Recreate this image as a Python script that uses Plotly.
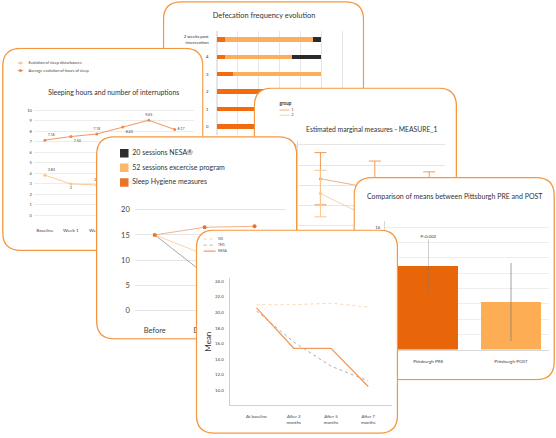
import plotly.graph_objects as go

W, H = 556, 438
FONT = "Lato"
BORDER = "#f5973f"
GRID = "#e6e6e6"
TXT = "#333333"

# ---------------- data ----------------
# Card A - defecation frequency evolution (stacked horizontal bars)
defec_cats = ["0", "1", "2", "3", "4", "2 weeks post<br>intervention"]
defec_seg_names = ["Group A", "Group B", "Group C"]
defec_dark = [25, 18, 13, 4, 2, 2]
defec_light = [0, 7, 12, 21, 16, 21]
defec_black = [0, 0, 0, 0, 7, 2]
defec_ticks = [0, 5, 10, 15, 20, 25, 30]

# Card B - sleeping hours and number of interruptions
sleep_weeks = ["Baseline", "Week 1", "Week 2", "Week 3", "Week 4", "Week 5"]
sleep_disturb = [3.83, 3.0, 2.9, 2.6, 2.4, 2.2]
sleep_hours = [7.16, 7.50, 7.74, 8.40, 9.05, 8.17]
sleep_names = ["Evolution of sleep disturbances", "Average evolution of hours of sleep"]

# Card C - estimated marginal measures
emm_time = ["1", "2", "3"]
emm_groups = ["1", "2"]
emm_g1_mean = [16.6, 14.1, 12.0]
emm_g1_err = [6.5, 6.9, 6.3]
emm_g2_mean = [12.9, 6.3, 5.5]
emm_g2_err = [5.8, 5.5, 5.5]

# Card D - NESA / exercise / sleep hygiene
nesa_names = ["20 sessions NESA®", "52 sessions excercise program", "Sleep Hygiene measures"]
nesa_periods = ["Before", "During", "After"]
nesa_sessions = [15, 7.3, 6.0]
nesa_exercise = [15, 11.1, 10.5]
nesa_hygiene = [15, 16.5, 16.7]

# Card E - Pittsburgh PRE / POST
pitt_cats = ["Pittsburgh PRE", "Pittsburgh POST"]
pitt_means = [11.0, 6.2]
pitt_err = [3.5, 5.1]
pitt_pvalue = "P=0.002"

# Card F - means over time
mean_names = ["GG", "TEG", "NESA"]
mean_times = ["At baseline", "After 2<br>months", "After 5<br>months", "After 7<br>months"]
mean_gg = [21.0, 21.0, 21.2, 20.7]
mean_teg = [20.2, 16.2, 13.1, 11.2]
mean_nesa = [20.6, 15.4, 15.4, 10.5]

# ---------------- colours ----------------
C_DARK = "#f26b0f"
C_LIGHT = "#fdad5c"
C_BLACK = "#2b2b2b"

# ---------------- helpers ----------------
def dom_x(a, b):
    return [a / W, b / W]

def dom_y(top, bot):
    return [1 - bot / H, 1 - top / H]

def lin(p, pa, va, pb, vb):
    return va + (p - pa) * (vb - va) / (pb - pa)

def nm(n, letter):
    return letter if n == 1 else f"{letter}{n}"

def rounded(x0, y0, x1, y1, r):
    return (f"M{x0+r},{y0} L{x1-r},{y0} Q{x1},{y0} {x1},{y0+r} "
            f"L{x1},{y1-r} Q{x1},{y1} {x1-r},{y1} L{x0+r},{y1} "
            f"Q{x0},{y1} {x0},{y1-r} L{x0},{y0+r} Q{x0},{y0} {x0+r},{y0} Z")

fig = go.Figure()
layout = dict(width=W, height=H, margin=dict(l=0, r=0, t=0, b=0),
              paper_bgcolor="white", plot_bgcolor="rgba(0,0,0,0)",
              showlegend=False, barmode="stack", hovermode=False,
              font=dict(family=FONT, color=TXT))
shapes = []

# card frames (x0, y0, x1, y1) in page pixels, back to front
cards = [
    (162, 1, 364, 207),    # A defecation
    (1, 48, 203, 253),     # B sleep
    (253, 88, 457, 293),   # C EMM
    (95, 137, 297, 342),   # D NESA
    (353, 178, 555, 383),  # E Pittsburgh
    (195, 231, 398, 437),  # F Mean
]

for i, (x0, y0, x1, y1) in enumerate(cards):
    n = 2 * i + 1
    layout[nm(n, "xaxis")] = dict(domain=dom_x(x0, x1), range=[x0, x1], visible=False,
                                  fixedrange=True, anchor=nm(n, "y"))
    layout[nm(n, "yaxis")] = dict(domain=dom_y(y0, y1), range=[y1, y0], visible=False,
                                  fixedrange=True, anchor=nm(n, "x"))
    shapes.append(dict(type="path", path=rounded(x0 + 0.8, y0 + 0.8, x1 - 0.8, y1 - 0.8, 18),
                       xref=nm(n, "x"), yref=nm(n, "y"), layer="below",
                       fillcolor="white", line=dict(color=BORDER, width=1.3)))

def bg_text(n, x, y, text, size, pos="middle center", color=TXT, bold=False):
    fig.add_trace(go.Scatter(x=[x], y=[y], mode="text", text=[f"<b>{text}</b>" if bold else text],
                             textposition=pos, cliponaxis=False,
                             textfont=dict(size=size, color=color, family=FONT),
                             xaxis=nm(n, "x"), yaxis=nm(n, "y"), hoverinfo="skip"))

def bg_key(n, x, y, color, size=0, symbol="circle", line_len=0, dash="solid", lw=1):
    if line_len:
        fig.add_trace(go.Scatter(x=[x - line_len / 2, x + line_len / 2], y=[y, y], mode="lines",
                                 line=dict(color=color, width=lw, dash=dash),
                                 xaxis=nm(n, "x"), yaxis=nm(n, "y"), hoverinfo="skip"))
    if size:
        fig.add_trace(go.Scatter(x=[x], y=[y], mode="markers",
                                 marker=dict(size=size, color=color, symbol=symbol),
                                 xaxis=nm(n, "x"), yaxis=nm(n, "y"), hoverinfo="skip"))

# ================= Card A : defecation =================
bg_text(1, 263.5, 16.5, "Defecation frequency evolution", 7.4)
for vals, col, name in zip([defec_dark, defec_light, defec_black],
                           [C_DARK, C_LIGHT, C_BLACK], defec_seg_names):
    fig.add_trace(go.Bar(y=defec_cats, x=vals, orientation="h", name=name, width=0.26,
                         marker=dict(color=col, line=dict(width=0)),
                         xaxis="x2", yaxis="y2"))
layout["xaxis2"] = dict(domain=dom_x(216, 360), range=[0, (360 - 216) / 4.2], anchor="y2",
                        tickvals=defec_ticks, showgrid=True, gridcolor=GRID, gridwidth=0.8,
                        zeroline=True, zerolinecolor=GRID, ticks="", fixedrange=True,
                        tickfont=dict(size=4.5, color="#555"))
layout["yaxis2"] = dict(domain=dom_y(31, 136), range=[-0.5, 5.5], type="category",
                        categoryorder="array", categoryarray=defec_cats, anchor="x2",
                        showgrid=False, ticks="", ticklabelstandoff=7, fixedrange=True,
                        tickfont=dict(size=4.3, color="#333"))

# ================= Card B : sleep =================
bg_text(3, 113, 94.3, "Sleeping hours and number of interruptions", 6.9)
sleep_cols = ["#fcc38d", "#ef8a48"]
for k, (name, col) in enumerate(zip(sleep_names, sleep_cols)):
    yk = 63.5 + 7.6 * k
    bg_key(3, 19.5, yk, col, size=3, line_len=6, lw=0.8)
    bg_text(3, 27.5, yk, name, 3.9, pos="middle right", color="#444")

fig.add_trace(go.Scatter(x=sleep_weeks, y=sleep_disturb, mode="lines+markers+text",
                         text=[f"{v:g}" for v in sleep_disturb],
                         textposition=["top right", "bottom center", "top center",
                                       "top center", "top center", "top center"],
                         textfont=dict(size=3.6, color="#444"),
                         line=dict(color=sleep_cols[0], width=0.9),
                         marker=dict(size=3, color=sleep_cols[0]),
                         name=sleep_names[0], xaxis="x4", yaxis="y4"))
fig.add_trace(go.Scatter(x=sleep_weeks, y=sleep_hours, mode="lines+markers+text",
                         text=[f"{v:.2f}" for v in sleep_hours],
                         textposition=["top right", "bottom right", "top center",
                                       "bottom right", "top center", "middle right"],
                         textfont=dict(size=3.6, color="#444"),
                         line=dict(color=sleep_cols[1], width=0.9),
                         marker=dict(size=3, color=sleep_cols[1]),
                         name=sleep_names[1], xaxis="x4", yaxis="y4"))
layout["xaxis4"] = dict(domain=dom_x(33, 193), type="category",
                        range=[lin(33, 44, 0, 70, 1), lin(193, 44, 0, 70, 1)], anchor="y4",
                        showgrid=False, zeroline=False, ticks="", ticklabelstandoff=8,
                        fixedrange=True, tickfont=dict(size=4.6, color="#444"))
layout["yaxis4"] = dict(domain=dom_y(108, 220),
                        range=[lin(220, 217, 0, 111, 10), lin(108, 217, 0, 111, 10)],
                        anchor="x4", dtick=1, showgrid=True, gridcolor="#ececec", gridwidth=0.8,
                        zeroline=False, ticks="", ticklabelstandoff=1, fixedrange=True,
                        tickfont=dict(size=4, color="#444"))

# ================= Card C : EMM =================
bg_text(5, 371.5, 130.7, "Estimated marginal measures - MEASURE_1", 6.8)
bg_text(5, 279, 104.5, "group", 4.6, pos="middle right", bold=True)
emm_cols = ["#f39a55", "#fcc58f"]
for k, (g, col) in enumerate(zip(emm_groups, emm_cols)):
    yk = 110.8 + 5.2 * k
    bg_key(5, 284, yk, col, line_len=10, lw=0.8)
    bg_text(5, 291, yk, g, 3.6, pos="middle right", color="#444")
for means, errs, col, g in [(emm_g1_mean, emm_g1_err, emm_cols[0], emm_groups[0]),
                            (emm_g2_mean, emm_g2_err, emm_cols[1], emm_groups[1])]:
    fig.add_trace(go.Scatter(x=emm_time, y=means, mode="lines+markers", name=g,
                             line=dict(color=col, width=0.8), marker=dict(size=3, color=col),
                             error_y=dict(type="data", array=errs, color=col, thickness=1, width=6),
                             xaxis="x6", yaxis="y6"))
layout["xaxis6"] = dict(domain=dom_x(298, 445), type="category",
                        range=[lin(298, 320, 0, 374.5, 1), lin(445, 320, 0, 374.5, 1)],
                        anchor="y6", showgrid=False, zeroline=False, ticks="", fixedrange=True,
                        tickfont=dict(size=4.5, color="#444"))
layout["yaxis6"] = dict(domain=dom_y(142, 262),
                        range=[lin(262, 247, 0, 146, 25), lin(142, 247, 0, 146, 25)],
                        anchor="x6", dtick=5, showgrid=True, gridcolor=GRID, gridwidth=0.8,
                        showline=True, linecolor="#dddddd", linewidth=1, zeroline=False,
                        ticks="", fixedrange=True, tickfont=dict(size=4.5, color="#444"))

# ================= Card D : NESA =================
nesa_cols = [C_BLACK, "#fdb768", "#e8742a"]
for k, (name, col) in enumerate(zip(nesa_names, nesa_cols)):
    yk = 154.3 + 14.7 * k
    bg_key(7, 123.5, yk, col, size=8.5, symbol="square")
    bg_text(7, 131.5, yk, name, 7, pos="middle right", color="#333")
for vals, col, name, lw, ms in [(nesa_sessions, "#6b6b6b", nesa_names[0], 0.6, 0),
                                (nesa_exercise, "#fdc891", nesa_names[1], 0.8, 0),
                                (nesa_hygiene, "#f0a070", nesa_names[2], 0.8, 4)]:
    fig.add_trace(go.Scatter(x=nesa_periods, y=vals, mode="lines+markers" if ms else "lines",
                             name=name, line=dict(color=col, width=lw),
                             marker=dict(size=ms, color="#e8742a"),
                             xaxis="x8", yaxis="y8"))
layout["xaxis8"] = dict(domain=dom_x(134, 286), type="category",
                        range=[lin(134, 154, 0, 204, 1), lin(286, 154, 0, 204, 1)],
                        anchor="y8", showgrid=False, zeroline=False, ticks="",
                        ticklabelstandoff=9, fixedrange=True,
                        tickfont=dict(size=7.5, color="#444"))
layout["yaxis8"] = dict(domain=dom_y(205, 318),
                        range=[lin(318, 313, 0, 211, 20), lin(205, 313, 0, 211, 20)],
                        anchor="x8", dtick=5, showgrid=True, gridcolor=GRID, gridwidth=0.9,
                        zeroline=False, ticks="", ticklabelstandoff=4, fixedrange=True,
                        tickfont=dict(size=7.5, color="#444"))

# ================= Card E : Pittsburgh =================
bg_text(9, 454.5, 199, "Comparison of means between Pittsburgh PRE and POST", 7.0)
fig.add_trace(go.Bar(x=pitt_cats, y=pitt_means, width=0.72,
                     marker=dict(color=["#e8650a", "#fdae55"], line=dict(width=0)),
                     error_y=dict(type="data", array=pitt_err, color="rgba(120,120,120,0.35)",
                                  thickness=1.3, width=0),
                     xaxis="x10", yaxis="y10"))
fig.add_trace(go.Scatter(x=pitt_cats[:1], y=[pitt_means[0] + pitt_err[0]], mode="text",
                         text=[pitt_pvalue], textposition="top center", cliponaxis=False,
                         textfont=dict(size=4.2, color="#333"), xaxis="x10", yaxis="y10"))
layout["xaxis10"] = dict(domain=dom_x(385, 549), type="category",
                         range=[lin(385, 428, 0, 511, 1), lin(549, 428, 0, 511, 1)],
                         anchor="y10", showgrid=False, zeroline=False, showline=True,
                         linecolor="#d9d9d9", linewidth=1, ticks="", ticklabelstandoff=7,
                         fixedrange=True, tickfont=dict(size=4.6, color="#444"))
layout["yaxis10"] = dict(domain=dom_y(223, 352), range=[0, lin(223, 352, 0, 229, 16)],
                         anchor="x10", dtick=2, showgrid=True, gridcolor="#eeeeee", gridwidth=0.8,
                         zeroline=False, showline=True, linecolor="#d9d9d9", linewidth=1,
                         ticks="", ticklabelstandoff=3, fixedrange=True,
                         tickfont=dict(size=4.4, color="#444"))

# ================= Card F : Mean =================
mean_styles = [("#fcd6ae", "dot", 1.0), ("#9a9a9a", "dot", 0.8), ("#f29a5e", "solid", 1.3)]
for k, (name, (col, dash, lw)) in enumerate(zip(mean_names, mean_styles)):
    yk = 240.7 + 6.1 * k
    bg_key(11, 209, yk, col, line_len=12, dash=dash, lw=lw)
    bg_text(11, 217.5, yk, name, 3.4, pos="middle right", color="#444")
for vals, name, (col, dash, lw) in zip([mean_gg, mean_teg, mean_nesa], mean_names, mean_styles):
    fig.add_trace(go.Scatter(x=mean_times, y=vals, mode="lines", name=name,
                             line=dict(color=col, width=lw, dash=dash),
                             xaxis="x12", yaxis="y12"))
layout["xaxis12"] = dict(domain=dom_x(229, 392), type="category",
                         range=[lin(229, 256, 0, 293.3, 1), lin(392, 256, 0, 293.3, 1)],
                         anchor="y12", showgrid=False, zeroline=False, showline=True,
                         linecolor="#cfcfcf", linewidth=1, ticks="", ticklabelstandoff=7,
                         fixedrange=True, tickfont=dict(size=4.4, color="#444"))
layout["yaxis12"] = dict(domain=dom_y(280, 408),
                         range=[lin(408, 393, 10, 299, 22), lin(280, 393, 10, 299, 22)],
                         anchor="x12", dtick=2, tickformat=".1f", showgrid=False, zeroline=False,
                         showline=True, linecolor="#cfcfcf", linewidth=1, ticks="",
                         ticklabelstandoff=4, fixedrange=True,
                         tickfont=dict(size=4.4, color="#444"),
                         title=dict(text="Mean", font=dict(size=8, color="#333"), standoff=2))

layout["shapes"] = shapes
fig.update_layout(**layout)
fig.write_html("out.html", config={"displayModeBar": False},
               post_script="document.body.style.margin='0px';"
                           "document.body.style.overflow='hidden';")
